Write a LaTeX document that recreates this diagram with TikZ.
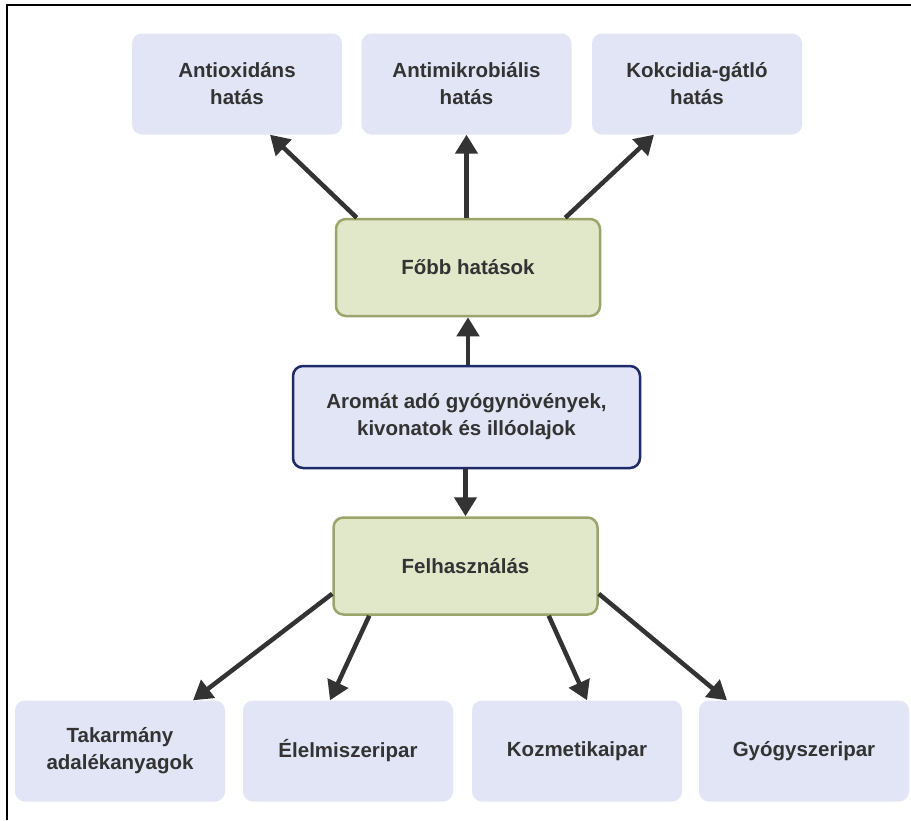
\documentclass[tikz,border=0pt]{standalone}
\usepackage{fontspec}
\setmainfont{Liberation Sans}
\usetikzlibrary{arrows.meta}
\definecolor{lav}{HTML}{E2E5F5}
\definecolor{grn}{HTML}{E1E7C9}
\definecolor{grnb}{HTML}{9BA56B}
\definecolor{navy}{HTML}{1F2A6B}
\definecolor{txt}{HTML}{333333}
\definecolor{arr}{HTML}{333333}
\tikzset{
  base/.style={rounded corners=10pt, align=center, inner sep=0pt, text=txt,
    font=\fontsize{20.5}{27}\selectfont\bfseries},
  leaf/.style={base, fill=lav, minimum width=210pt, minimum height=101pt},
  hub/.style={base, fill=grn, draw=grnb, line width=2.5pt, minimum width=264pt, minimum height=97pt},
  core/.style={base, fill=lav, draw=navy, line width=2.5pt, minimum width=347pt, minimum height=102pt},
  conn/.style={draw=arr, line width=4.5pt, -{Triangle[length=19pt,width=22pt]}}
}
\begin{document}
\begin{tikzpicture}[x=1pt,y=-1pt]
\useasboundingbox (0,0) rectangle (911,820);
\fill[white] (0,0) rectangle (911,820);
\draw[line width=2pt] (7,820) -- (7,5) -- (911,5);

\node[leaf] (anti) at (237,84) {Antioxidáns\\hatás};
\node[leaf] (mikro) at (466.5,84) {Antimikrobiális\\hatás};
\node[leaf] (kok) at (697,84) {Kokcidia-gátló\\hatás};

\node[hub] (fobb) at (468,267.5) {Főbb hatások};
\node[core] (arom) at (466.5,417) {Aromát adó gyógynövények,\\kivonatok és illóolajok};
\node[hub] (felh) at (465.5,566) {Felhasználás};

\node[leaf] (tak) at (120,751) {Takarmány\\adalékanyagok};
\node[leaf] (elel) at (348,751) {Élelmiszeripar};
\node[leaf] (koz) at (577,751) {Kozmetikaipar};
\node[leaf] (gyogy) at (804,751) {Gyógyszeripar};

\draw[conn] ([xshift=22pt]fobb.north west) -- ([xshift=33pt]anti.south);
\draw[conn] (fobb.north -| mikro.south) -- (mikro.south);
\draw[conn] ([xshift=-36pt]fobb.north east) -- ([xshift=-43pt]kok.south);

\draw[conn] (arom.north -| fobb.south) -- (fobb.south);
\draw[conn] (arom.south -| felh.north) -- (felh.north);

\draw[conn] ([yshift=22pt]felh.south west) -- ([xshift=73pt]tak.north);
\draw[conn] ([xshift=37pt]felh.south west) -- ([xshift=-18pt]elel.north);
\draw[conn] ([xshift=-50pt]felh.south east) -- ([xshift=10pt]koz.north);
\draw[conn] ([yshift=22pt]felh.south east) -- ([xshift=-77pt]gyogy.north);
\end{tikzpicture}
\end{document}
